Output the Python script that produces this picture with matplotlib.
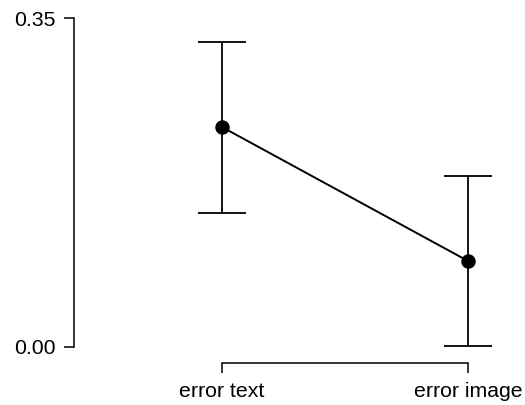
import matplotlib
matplotlib.use("Agg")
import matplotlib.pyplot as plt

categories = ["error text", "error image"]
means = [0.234, 0.0915]
errors = [0.091, 0.0905]
y_ticks = [0.0, 0.35]
y_tick_labels = ["0.00", "0.35"]

plt.rcParams['font.family'] = ['Liberation Sans', 'DejaVu Sans']

fig = plt.figure(figsize=(5.25, 4.05), dpi=100)
ax = fig.add_axes([74/525, 58/405, 446/525, 329/405])

xs = list(range(len(categories)))
ax.errorbar(xs, means, yerr=errors, color='black', ecolor='black',
            elinewidth=1.3, capsize=17.5, capthick=1.3, lw=1.4,
            marker='o', markersize=9.4, clip_on=False, zorder=3)

ax.set_xlim(-148/246, 1 + 52/246)
ax.set_ylim(0, 0.35)
ax.set_yticks(y_ticks)
ax.set_yticklabels(y_tick_labels)
ax.set_xticks(xs)
ax.set_xticklabels(categories)

for s in ['top', 'right']:
    ax.spines[s].set_visible(False)
ax.spines['left'].set_bounds(0, 0.35)
ax.spines['bottom'].set_bounds(0, 1)
ax.spines['bottom'].set_position(('outward', 11.5))
for s in ['left', 'bottom']:
    ax.spines[s].set_linewidth(1.1)

ax.tick_params(axis='both', length=7.5, width=1.1, labelsize=15.3, pad=6, color='black')

fig.savefig("out.png", dpi=100)
